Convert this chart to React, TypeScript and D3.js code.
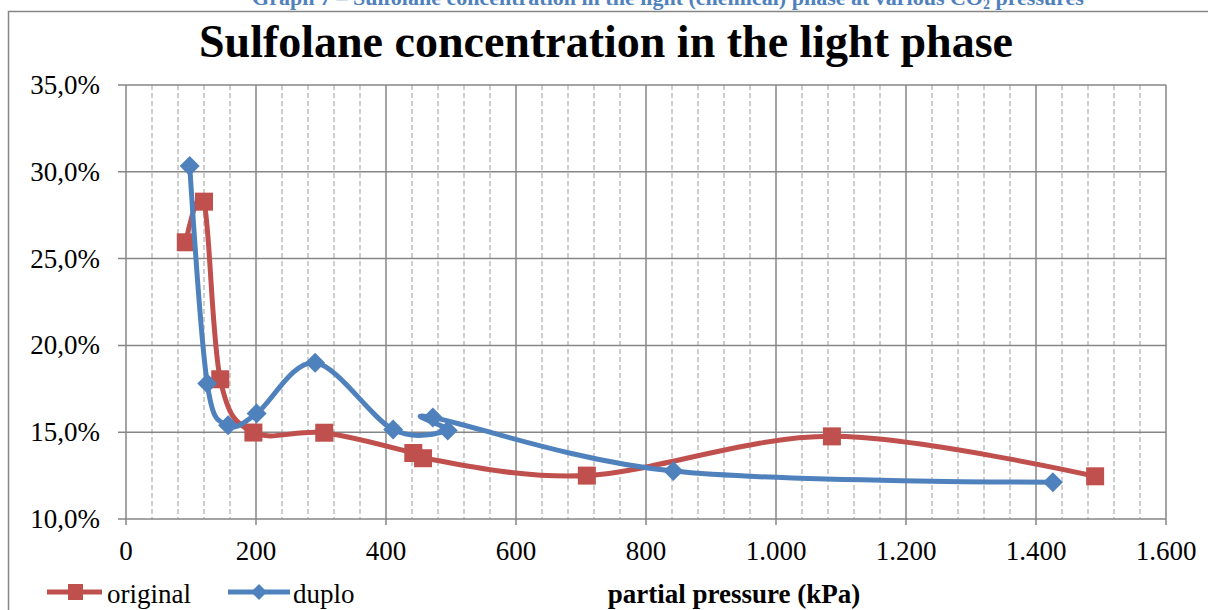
import React from "react";
import * as d3 from "d3";

// Partial pressure (kPa) and sulfolane concentration (%) for both runs
const originalPressure = [92, 120, 145, 196, 305, 442, 457, 709, 1086, 1491];
const originalConc = [25.94, 28.28, 18.05, 14.98, 14.97, 13.8, 13.5, 12.5, 14.76, 12.46];
const duploPressure = [98, 125, 157, 201, 291, 411, 495, 472, 842, 1426];
const duploConc = [30.34, 17.8, 15.4, 16.08, 19.0, 15.15, 15.1, 15.85, 12.76, 12.12];

const xTicks = [0, 200, 400, 600, 800, 1000, 1200, 1400, 1600];
const xTickLabels = ["0", "200", "400", "600", "800", "1.000", "1.200", "1.400", "1.600"];
const yTicks = [10, 15, 20, 25, 30, 35];
const yTickLabels = ["10,0%", "15,0%", "20,0%", "25,0%", "30,0%", "35,0%"];

const seriesNames = ["original", "duplo"];
const RED = "#C0504D";
const BLUE = "#4F81BD";
const FONT = "'Liberation Serif', 'Times New Roman', serif";

export default function App() {
  const W = 1208;
  const H = 610;
  const x = d3.scaleLinear().domain([0, 1600]).range([126, 1166]);
  const y = d3.scaleLinear().domain([10, 35]).range([519, 85]);

  const minorX = d3.range(0, 1601, 40).filter((v) => v % 200 !== 0);

  const line = d3
    .line<[number, number]>()
    .x((d) => x(d[0]))
    .y((d) => y(d[1]))
    .curve(d3.curveCardinal.tension(0));

  const orig: [number, number][] = originalPressure.map((p, i) => [p, originalConc[i]]);
  const dup: [number, number][] = duploPressure.map((p, i) => [p, duploConc[i]]);

  const sq = 18;
  const dm = 10;
  const diamond = (cx: number, cy: number, r: number) =>
    `M${cx},${cy - r}L${cx + r},${cy}L${cx},${cy + r}L${cx - r},${cy}Z`;

  return (
    <svg
      width={W}
      height={H}
      style={{ position: "absolute", left: 0, top: 0, background: "#fff" }}
      fontFamily={FONT}
    >
      {/* caption above the chart frame */}
      <text
        x={668}
        y={5}
        textAnchor="middle"
        fontSize={22}
        fontWeight="bold"
        fill={BLUE}
      >
        Graph 7 – Sulfolane concentration in the light (chemical) phase at various CO
        <tspan fontSize={14} dy={4}>2</tspan>
        <tspan dy={-4}> pressures</tspan>
      </text>

      {/* chart frame */}
      <rect x={8.5} y={11.5} width={1400} height={800} fill="#fff" stroke="#868686" strokeWidth={1.5} />

      {/* title */}
      <text x={606} y={57} textAnchor="middle" fontSize={46} fontWeight="bold" fill="#000">
        Sulfolane concentration in the light phase
      </text>

      {/* minor vertical grid */}
      {minorX.map((v) => (
        <line
          key={"mx" + v}
          x1={x(v)}
          x2={x(v)}
          y1={y(35)}
          y2={y(10)}
          stroke="#BFBFBF"
          strokeWidth={1.5}
          strokeDasharray="5,3"
        />
      ))}
      {/* major vertical grid */}
      {xTicks.map((v) => (
        <line key={"gx" + v} x1={x(v)} x2={x(v)} y1={y(35)} y2={y(10) + 6} stroke="#868686" strokeWidth={1.5} />
      ))}
      {/* horizontal grid */}
      {yTicks.map((v) => (
        <line key={"gy" + v} x1={x(0) - 8} x2={x(1600)} y1={y(v)} y2={y(v)} stroke="#868686" strokeWidth={1.5} />
      ))}

      {/* y tick labels */}
      {yTicks.map((v, i) => (
        <text key={"yl" + v} x={100} y={y(v) + 9} textAnchor="end" fontSize={27} fill="#000">
          {yTickLabels[i]}
        </text>
      ))}
      {/* x tick labels */}
      {xTicks.map((v, i) => (
        <text key={"xl" + v} x={x(v)} y={560} textAnchor="middle" fontSize={27} fill="#000">
          {xTickLabels[i]}
        </text>
      ))}

      {/* series: original */}
      <path d={line(orig) || ""} fill="none" stroke={RED} strokeWidth={5} strokeLinejoin="round" />
      {orig.map((d, i) => (
        <rect key={"os" + i} x={x(d[0]) - sq / 2} y={y(d[1]) - sq / 2} width={sq} height={sq} fill={RED} />
      ))}

      {/* series: duplo */}
      <path d={line(dup) || ""} fill="none" stroke={BLUE} strokeWidth={5} strokeLinejoin="round" />
      {dup.map((d, i) => (
        <path key={"dd" + i} d={diamond(x(d[0]), y(d[1]), dm)} fill={BLUE} />
      ))}

      {/* legend */}
      <line x1={47} x2={102} y1={592} y2={592} stroke={RED} strokeWidth={5} />
      <rect x={68} y={584} width={15} height={16} fill={RED} />
      <text x={107} y={603} fontSize={27} fill="#000">{seriesNames[0]}</text>
      <line x1={228} x2={290} y1={592} y2={592} stroke={BLUE} strokeWidth={5} />
      <path d={diamond(259, 592, 8)} fill={BLUE} />
      <text x={293} y={603} fontSize={27} fill="#000">{seriesNames[1]}</text>

      {/* axis title */}
      <text x={734} y={603} textAnchor="middle" fontSize={27} fontWeight="bold" fill="#000">
        partial pressure (kPa)
      </text>
    </svg>
  );
}
